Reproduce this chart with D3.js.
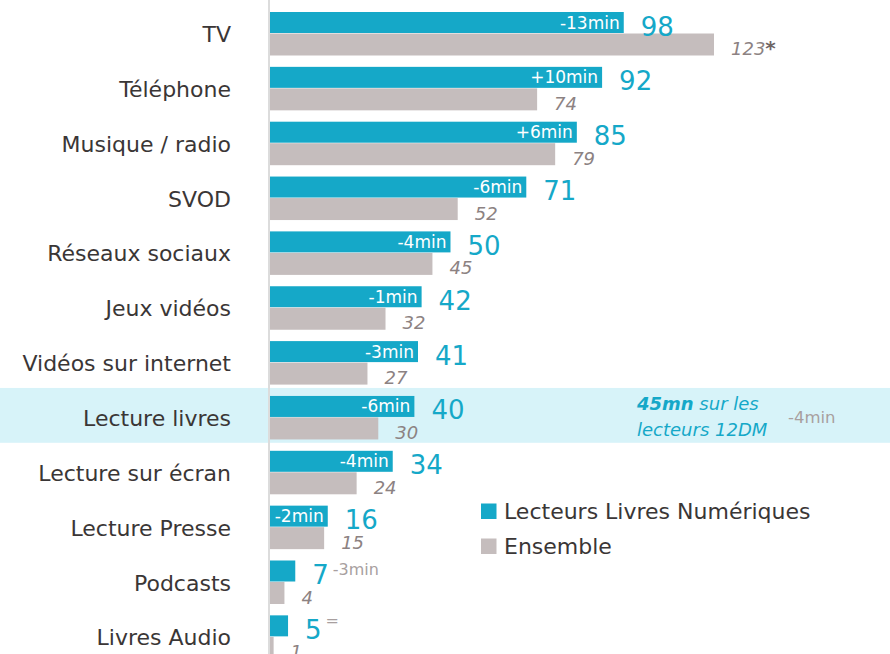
<!DOCTYPE html>
<html>
<head>
<meta charset="utf-8">
<script src="https://cdn.jsdelivr.net/npm/d3@7"></script>
<style>
  body { margin: 0; background: #fff; }
  svg { display: block; font-family: "DejaVu Sans", sans-serif; }
</style>
</head>
<body>
<div id="chart"></div>
<script>
// data
var categories = ["TV", "Téléphone", "Musique / radio", "SVOD", "Réseaux sociaux", "Jeux vidéos",
  "Vidéos sur internet", "Lecture livres", "Lecture sur écran", "Lecture Presse", "Podcasts", "Livres Audio"];
var readers = [98, 92, 85, 71, 50, 42, 41, 40, 34, 16, 7, 5];
var overall = [123, 74, 79, 52, 45, 32, 27, 30, 24, 15, 4, 1];
var deltas = ["-13min", "+10min", "+6min", "-6min", "-4min", "-1min", "-3min", "-6min", "-4min", "-2min", "-3min", "="];
var legendLabels = ["Lecteurs Livres Numériques", "Ensemble"];

var width = 890, height = 654;
var blue = "#15a8c8", grey = "#c5bdbd";
var x0 = 270;

var svg = d3.select("#chart").append("svg")
    .attr("width", width)
    .attr("height", height);

var x = d3.scaleLinear().domain([0, 123]).range([x0, 714]);
var y = d3.scaleBand().domain(categories).range([4, 4 + 12 * 54.85]);

// highlighted row
svg.append("rect")
    .attr("x", 0).attr("y", y("Lecture livres"))
    .attr("width", width).attr("height", y.bandwidth())
    .attr("fill", "#d7f3f9");

// axis line
svg.append("line")
    .attr("x1", x0 - 1).attr("x2", x0 - 1)
    .attr("y1", 0).attr("y2", height)
    .attr("stroke", "#dcdcdc").attr("stroke-width", 2);

var rows = svg.selectAll("g.row")
    .data(categories)
    .enter().append("g")
    .attr("class", "row")
    .attr("transform", function(d) { return "translate(0," + y(d) + ")"; });

rows.append("text")
    .attr("x", 231).attr("y", 38)
    .attr("text-anchor", "end")
    .attr("font-size", 22)
    .attr("fill", "#3a3636")
    .text(function(d) { return d; });

rows.append("rect")
    .attr("x", x0).attr("y", 8)
    .attr("width", function(d, i) { return x(readers[i]) - x0; })
    .attr("height", 21)
    .attr("fill", blue);

rows.append("rect")
    .attr("x", x0).attr("y", 29.5)
    .attr("width", function(d, i) { return x(overall[i]) - x0; })
    .attr("height", 22)
    .attr("fill", grey);

// blue values
var bv = rows.append("text")
    .attr("x", function(d, i) { return x(readers[i]) + 17; })
    .attr("y", 31.5)
    .attr("font-size", 26)
    .attr("fill", blue)
    .text(function(d, i) { return readers[i]; });

// grey values
var gv = rows.append("text")
    .attr("x", function(d, i) { return x(overall[i]) + 17; })
    .attr("y", 51)
    .attr("font-size", 18)
    .attr("font-style", "italic")
    .attr("fill", "#8c8282")
    .text(function(d, i) { return overall[i]; });
gv.filter(function(d, i) { return i == 0; })
    .append("tspan").attr("font-weight", "bold").attr("font-size", 20).attr("fill", "#6e6464").text("*");

// deltas: inside the bar when it fits, else after the value
rows.each(function(d, i) {
  var g = d3.select(this);
  var w = x(readers[i]) - x0;
  if (w > 55) {
    g.append("text")
      .attr("x", x(readers[i]) - 4).attr("y", 24.5)
      .attr("text-anchor", "end")
      .attr("font-size", 17)
      .attr("fill", "#fff")
      .text(deltas[i]);
  } else {
    var vlen = bv.nodes()[i].getComputedTextLength();
    g.append("text")
      .attr("x", x(readers[i]) + 17 + vlen + 4).attr("y", i == 11 ? 19 : 22)
      .attr("font-size", 16)
      .attr("fill", "#a89f9f")
      .text(deltas[i]);
  }
});

// annotation on the highlighted row
var ay = y("Lecture livres");
var ann = svg.append("text")
    .attr("x", 637).attr("y", ay + 22)
    .attr("font-size", 18).attr("font-style", "italic").attr("fill", blue);
ann.append("tspan").attr("font-weight", "bold").text("45mn");
ann.append("tspan").text(" sur les");
svg.append("text")
    .attr("x", 637).attr("y", ay + 48)
    .attr("font-size", 18).attr("font-style", "italic").attr("fill", blue)
    .text("lecteurs 12DM");
svg.append("text")
    .attr("x", 788).attr("y", ay + 35)
    .attr("font-size", 16.5).attr("fill", "#a89f9f")
    .text("-4min");

// legend
var legend = svg.selectAll("g.legend")
    .data(legendLabels)
    .enter().append("g")
    .attr("class", "legend")
    .attr("transform", function(d, i) { return "translate(481," + (503.5 + i * 35) + ")"; });
legend.append("rect")
    .attr("width", 15.5).attr("height", 15.5)
    .attr("fill", function(d, i) { return i == 0 ? blue : grey; });
legend.append("text")
    .attr("x", 23).attr("y", 15.5)
    .attr("font-size", 22).attr("fill", "#3a3636")
    .text(function(d) { return d; });
</script>
</body>
</html>
